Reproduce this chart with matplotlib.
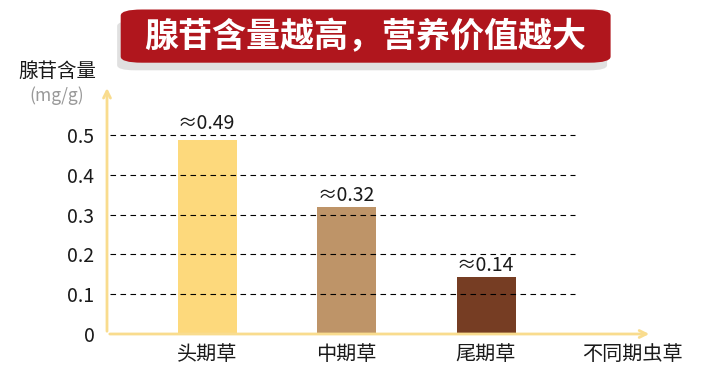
import matplotlib
matplotlib.use('Agg')
import matplotlib.pyplot as plt
from matplotlib.patches import FancyBboxPatch

plt.rcParams['font.family'] = ['Noto Sans CJK SC', 'DejaVu Sans']

# data
categories = ['头期草', '中期草', '尾期草']
values = [0.487, 0.319, 0.143]
value_labels = ['≈0.49', '≈0.32', '≈0.14']
bar_colors = ['#FDD97C', '#BE9468', '#763D23']
yticks = [0, 0.1, 0.2, 0.3, 0.4, 0.5]
ytick_labels = ['0', '0.1', '0.2', '0.3', '0.4', '0.5']
title = '腺苷含量越高，营养价值越大'
ylabel = '腺苷含量'
yunit = '(mg/g)'
xlabel = '不同期虫草'

axis_color = '#F9DC8E'
text_color = '#1a1a1a'

fig = plt.figure(figsize=(7.1, 3.8), dpi=100)

# title banner
shadow = FancyBboxPatch((0.165, 0.815), 0.69, 0.13, boxstyle='round,pad=0,rounding_size=0.025',
                        transform=fig.transFigure, facecolor='#9a9a9a', edgecolor='none', alpha=0.3,
                        mutation_aspect=380/710)
fig.patches.append(shadow)
banner = FancyBboxPatch((0.170, 0.835), 0.69, 0.140, boxstyle='round,pad=0,rounding_size=0.03',
                        transform=fig.transFigure, facecolor='#B0161D', edgecolor='none',
                        mutation_aspect=380/710)
fig.patches.append(banner)
fig.text(0.515, 0.903, title, color='white', fontsize=24.5, fontweight='bold',
         ha='center', va='center')

ax = fig.add_axes([107/710, 46/380, 548/710, 249/380])
x0 = -100/139.5
ax.set_xlim(x0, (655-207)/139.5)
ax.set_ylim(0, 0.6256)
for s in ax.spines.values():
    s.set_visible(False)

xpos = list(range(len(categories)))
ax.bar(xpos, values, width=59/139.5, color=bar_colors, zorder=2)

# dashed grid lines
for t in yticks[1:]:
    ax.plot([x0 + 0.02, (575-207)/139.5], [t, t], color='black', lw=0.8,
            linestyle=(0, (5, 4)), zorder=3)

# axes with arrows
ax.annotate('', xy=(x0, 0.625), xytext=(x0, 0), xycoords='data',
            arrowprops=dict(arrowstyle='->,head_length=0.5,head_width=0.25', color=axis_color, lw=2),
            annotation_clip=False)
ax.annotate('', xy=((652-207)/139.5, 0), xytext=(x0, 0),
            arrowprops=dict(arrowstyle='->,head_length=0.5,head_width=0.25', color=axis_color, lw=2),
            annotation_clip=False)

# value labels; lift above a grid line that sits just over the bar
for x, v, lab in zip(xpos, values, value_labels):
    anchor = v
    for t in yticks:
        if 0 <= t - v < 0.02:
            anchor = t
    ax.annotate(lab, xy=(x - 29/139.5, anchor), xytext=(0, 6), textcoords='offset pixels',
                fontsize=14, ha='left', va='baseline', color=text_color, zorder=4)

ax.set_yticks(yticks)
ax.set_yticklabels(ytick_labels, fontsize=14, color=text_color)
ax.set_xticks(xpos + [3.05])
ax.set_xticklabels(categories + [xlabel], fontsize=14.5, color=text_color)
ax.tick_params(axis='both', length=0)
ax.tick_params(axis='y', pad=9)
ax.tick_params(axis='x', pad=7)

fig.text(57/710, 1 - 71/380, ylabel, fontsize=14, ha='center', va='center', color=text_color)
fig.text(57/710, 1 - 96/380, yunit, fontsize=12.5, ha='center', va='center', color='#999999')

fig.savefig('out.png', dpi=100, facecolor='white')
